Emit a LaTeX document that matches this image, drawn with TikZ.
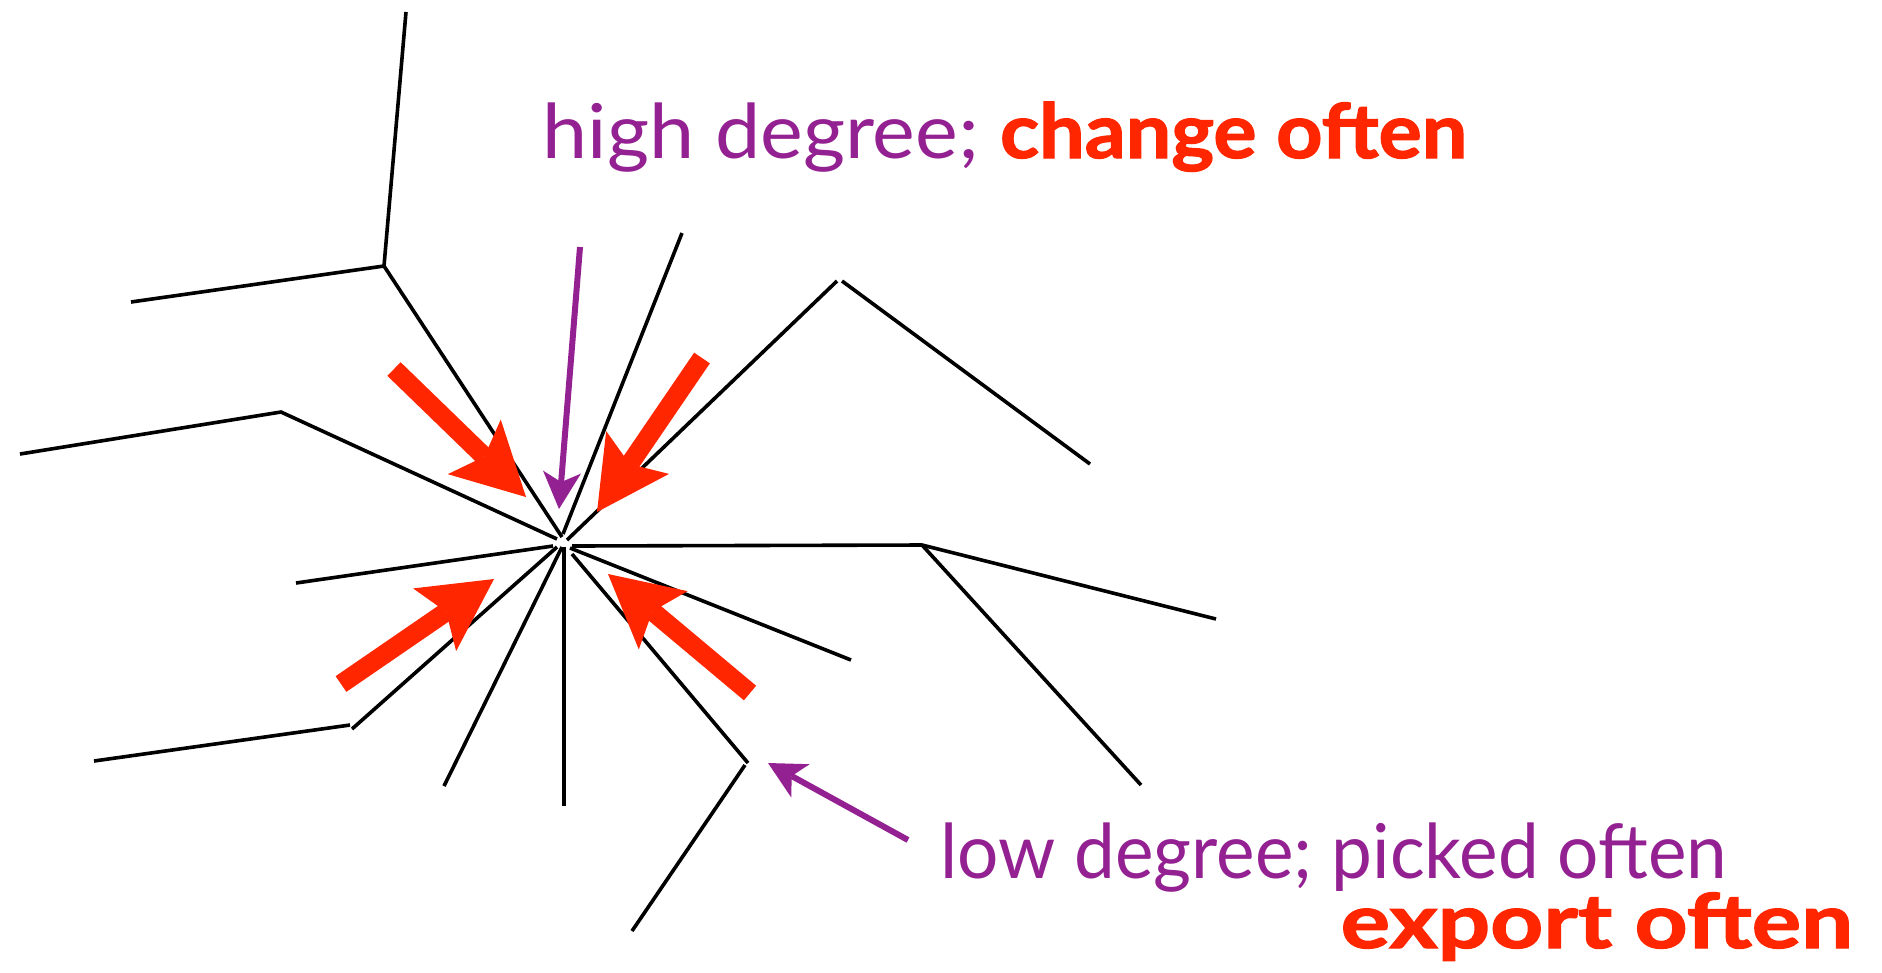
\documentclass[tikz,border=0pt]{standalone}
\usepackage{fontspec}
\setmainfont{Lato}
\newfontfamily\heavyfont{Lato}[BoldFeatures={FakeBold=1.6}]
\usetikzlibrary{arrows.meta}
\definecolor{plum}{RGB}{148,33,146}
\definecolor{maraschino}{RGB}{255,38,0}
\newsavebox\fitbox
\newcommand\fitx[2]{\sbox\fitbox{#2}\pgfmathsetmacro\fitfac{#1/\wd\fitbox}\scalebox{\fitfac}[1]{\usebox\fitbox}}
\begin{document}
\begin{tikzpicture}[x=0.01cm,y=-0.01cm,
  edge/.style={draw=black,line width=0.036cm},
  redarrow/.style={draw=maraschino,line width=0.19cm,-{Stealth[length=0.72cm,width=0.76cm,inset=0.14cm,line width=0pt]}},
  purparrow/.style={draw=plum,line width=0.06cm,-{Stealth[length=0.37cm,width=0.38cm,inset=0.1cm,line width=0pt]}},
  lbl/.style={inner sep=0pt,anchor=base west,font=\fontsize{21.5}{26}\selectfont}]
\useasboundingbox (0,0) rectangle (1882,972);
% outer points
\coordinate (a1) at (406,12);
\coordinate (a2) at (384,266);
\coordinate (a3) at (131,302);
\coordinate (b1) at (20,454);
\coordinate (b2) at (281,412);
\coordinate (c0) at (296,583);
\coordinate (d1) at (94,761);
\coordinate (d2) at (350,725);
\coordinate (d3) at (352,729);
\coordinate (e0) at (444,786);
\coordinate (f0) at (564,806);
\coordinate (g1) at (748,763);
\coordinate (g2) at (745,765);
\coordinate (g3) at (632,931);
\coordinate (h0) at (851,660);
\coordinate (i1) at (922,545);
\coordinate (i2) at (1216,619);
\coordinate (i3) at (1141,785);
\coordinate (j1) at (837,281);
\coordinate (j2) at (842,281);
\coordinate (j3) at (1090,464);
\coordinate (k0) at (682,233);
% inner ends near the hub
\coordinate (ca) at (562,537);
\coordinate (cb) at (557,539);
\coordinate (cc) at (553,546);
\coordinate (cd) at (557,547);
\coordinate (ce) at (562,547);
\coordinate (cf) at (564,547);
\coordinate (cg) at (572,554);
\coordinate (ch) at (570,548);
\coordinate (ci) at (572,546);
\coordinate (cj) at (567,540);
\coordinate (ck) at (563,534);
% black edges
\draw[edge] (a1) -- (a2) -- (a3);
\draw[edge] (a2) -- (ca);
\draw[edge] (b1) -- (b2) -- (cb);
\draw[edge] (c0) -- (cc);
\draw[edge] (d1) -- (d2);
\draw[edge] (d3) -- (cd);
\draw[edge] (e0) -- (ce);
\draw[edge] (f0) -- (cf);
\draw[edge] (cg) -- (g1);
\draw[edge] (g2) -- (g3);
\draw[edge] (ch) -- (h0);
\draw[edge] (ci) -- (i1) -- (i2);
\draw[edge] (i1) -- (i3);
\draw[edge] (cj) -- (j1);
\draw[edge] (j2) -- (j3);
\draw[edge] (ck) -- (k0);
% red arrows
\coordinate (r1s) at (394,369); \coordinate (r1e) at (526,497);
\coordinate (r2s) at (702,358); \coordinate (r2e) at (597,512);
\coordinate (r3s) at (341,684); \coordinate (r3e) at (494,579);
\coordinate (r4s) at (750,693); \coordinate (r4e) at (608,574);
\draw[redarrow] (r1s) -- (r1e);
\draw[redarrow] (r2s) -- (r2e);
\draw[redarrow] (r3s) -- (r3e);
\draw[redarrow] (r4s) -- (r4e);
% labels
\node[lbl] (t1) at (542,158) {\fitx{262.9}{{\color{plum}high degree; }{\color{maraschino}\heavyfont\bfseries change often}}};
\node[lbl] (t2) at (940,878) {\fitx{223.6}{\color{plum}low degree; picked often}};
\node[lbl] (t3) at (1340,948) {\fitx{145.7}{\color{maraschino}\heavyfont\bfseries export often}};
% purple arrows
\coordinate (p1s) at (580,247); \coordinate (p1e) at (559,509);
\coordinate (p2s) at (908,840); \coordinate (p2e) at (768,763);
\draw[purparrow] (p1s) -- (p1e);
\draw[purparrow] (p2s) -- (p2e);
\end{tikzpicture}
\end{document}
